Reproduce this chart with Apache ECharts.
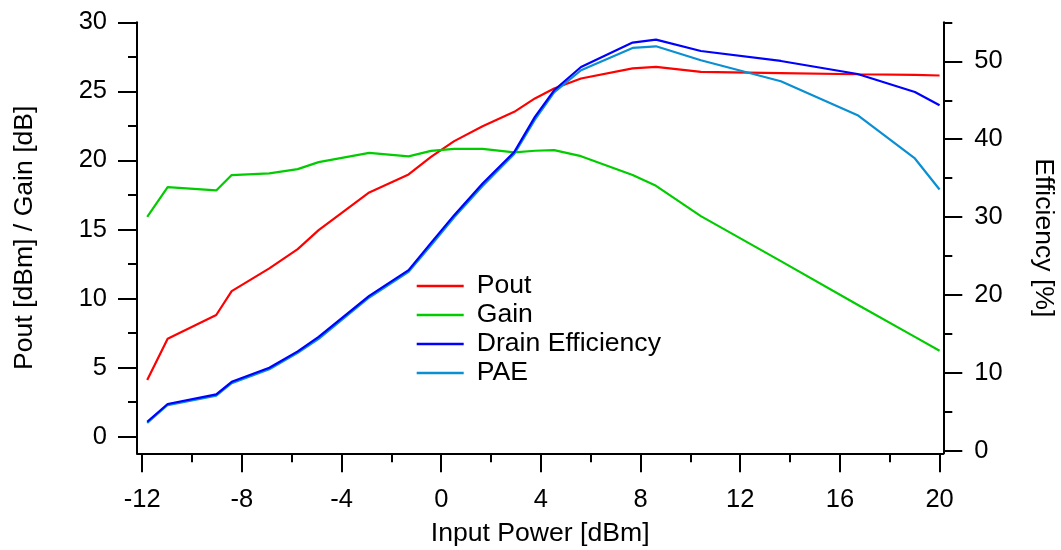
<!DOCTYPE html>
<html>
<head>
<meta charset="utf-8">
<script src="https://cdn.jsdelivr.net/npm/echarts@6/dist/echarts.min.js"></script>
<style>
  html, body { margin: 0; padding: 0; background: #ffffff; }
  #chart { width: 1061px; height: 550px; }
</style>
</head>
<body>
<div id="chart"></div>
<script>
// Power sweep of the amplifier: input power [dBm]
const inputPower = [-11.8, -10.98, -9.03, -8.41, -6.90, -5.76, -4.92, -2.89, -1.31, -0.41, 0.52, 1.66,
                    2.93, 3.76, 4.53, 5.61, 7.68, 8.62, 10.42, 13.63, 16.71, 19.01, 20.0];
// Output power [dBm]
const pout = [4.10, 7.09, 8.81, 10.54, 12.19, 13.58, 14.96, 17.68, 18.99, 20.26, 21.40, 22.48,
              23.52, 24.49, 25.21, 25.93, 26.66, 26.77, 26.41, 26.32, 26.24, 26.20, 26.15];
// Gain [dB]
const gain = [15.92, 18.07, 17.83, 18.94, 19.06, 19.37, 19.88, 20.55, 20.29, 20.69, 20.84, 20.84,
              20.58, 20.70, 20.75, 20.31, 18.94, 18.16, 15.97, 12.71, 9.55, 7.23, 6.22];
// Drain efficiency [%]
const drainEff = [3.76, 6.03, 7.27, 8.88, 10.68, 12.78, 14.65, 19.91, 23.21, 26.70, 30.26, 34.32,
                  38.37, 42.86, 46.28, 49.27, 52.40, 52.78, 51.32, 50.04, 48.37, 46.06, 44.36];
// Power-added efficiency [%]
const pae = [3.60, 5.90, 7.10, 8.70, 10.50, 12.60, 14.40, 19.70, 23.00, 26.40, 30.00, 34.00,
             38.10, 42.50, 46.00, 48.85, 51.71, 51.92, 50.13, 47.44, 43.08, 37.53, 33.55];

const seriesNames = ['Pout', 'Gain', 'Drain Efficiency', 'PAE'];

// Axis ranges and tick steps
const xRange = [-12.21, 20.15], xTicks = [-12, 20, 4];
const leftRange = [-1.2, 30], leftTicks = [0, 30, 5];
const rightRange = [-0.29, 55], rightTicks = [0, 60, 10];

const W = 1061, H = 550;
const FRAME = { left: 137, right: 943.3, top: 22.3, bottom: 453.3 };
const FONT = '"Liberation Sans", Arial, Helvetica, sans-serif';

const xPx = v => FRAME.left + (v - xRange[0]) / (xRange[1] - xRange[0]) * (FRAME.right - FRAME.left);
const leftPx = v => FRAME.bottom - (v - leftRange[0]) / (leftRange[1] - leftRange[0]) * (FRAME.bottom - FRAME.top);
const rightPx = v => FRAME.bottom - (v - rightRange[0]) / (rightRange[1] - rightRange[0]) * (FRAME.bottom - FRAME.top);

const black = '#000000';
const lineAxis = { show: true, onZero: false, lineStyle: { color: black, width: 2 } };
const noLine = { show: false, onZero: false };
const tickMajor = { show: true, length: 19, lineStyle: { color: black, width: 2 } };
const tickMinor = { show: true, splitNumber: 2, length: 9, lineStyle: { color: black, width: 2 } };
const tickLabel = (margin) => ({ show: true, color: black, fontSize: 25.5, fontFamily: FONT, margin: margin, hideOverlap: false });
const hidden = (grid) => ({ type: 'value', gridIndex: grid, show: false, min: 0, max: 1, axisLine: noLine });
const titleStyle = { color: black, fontSize: 26.6, fontFamily: FONT };
const gridBox = (l, r, t, b) => ({ left: l, right: W - r, top: t, bottom: H - b, outerBoundsMode: 'none', containLabel: false });

const chart = echarts.init(document.getElementById('chart'), null, { renderer: 'canvas' });

const option = {
  animation: false,
  backgroundColor: '#ffffff',
  grid: [
    // plotting area with the axis lines
    gridBox(FRAME.left, FRAME.right, FRAME.top, FRAME.bottom),
    // bottom ticks, spanning -12 .. 20
    gridBox(xPx(xTicks[0]), xPx(xTicks[1]), FRAME.top, FRAME.bottom),
    // left ticks, spanning 0 .. 30
    gridBox(FRAME.left, FRAME.right, leftPx(leftTicks[1]), leftPx(leftTicks[0])),
    // right ticks, spanning 0 .. 60
    gridBox(FRAME.left, FRAME.right, rightPx(rightTicks[1]), rightPx(rightTicks[0]))
  ],
  xAxis: [
    {
      type: 'value', gridIndex: 0, min: xRange[0], max: xRange[1],
      axisLine: lineAxis, axisTick: { show: false }, axisLabel: { show: false }, splitLine: { show: false },
      name: 'Input Power [dBm]', nameLocation: 'middle', nameGap: 67, nameTextStyle: titleStyle
    },
    {
      type: 'value', gridIndex: 1, min: xTicks[0], max: xTicks[1], interval: xTicks[2],
      axisLine: noLine, axisTick: tickMajor, minorTick: tickMinor,
      axisLabel: tickLabel(34), splitLine: { show: false }, minorSplitLine: { show: false }
    },
    hidden(2),
    hidden(3)
  ],
  yAxis: [
    {
      type: 'value', gridIndex: 0, position: 'left', min: leftRange[0], max: leftRange[1],
      axisLine: lineAxis, axisTick: { show: false }, axisLabel: { show: false }, splitLine: { show: false },
      name: 'Pout [dBm] / Gain [dB]', nameLocation: 'middle', nameGap: 99, nameTextStyle: titleStyle
    },
    {
      type: 'value', gridIndex: 0, position: 'right', min: rightRange[0], max: rightRange[1],
      axisLine: lineAxis, axisTick: { show: false }, axisLabel: { show: false }, splitLine: { show: false },
      name: 'Efficiency [%]', nameLocation: 'middle', nameGap: 87, nameRotate: -90, nameTextStyle: titleStyle
    },
    hidden(1),
    {
      type: 'value', gridIndex: 2, position: 'left', min: leftTicks[0], max: leftTicks[1], interval: leftTicks[2],
      axisLine: noLine, axisTick: tickMajor, minorTick: tickMinor,
      axisLabel: tickLabel(30), splitLine: { show: false }, minorSplitLine: { show: false }
    },
    {
      type: 'value', gridIndex: 3, position: 'right', min: rightTicks[0], max: rightTicks[1], interval: rightTicks[2],
      axisLine: noLine, axisTick: tickMajor, minorTick: tickMinor,
      axisLabel: Object.assign(tickLabel(31), { showMaxLabel: false }),
      splitLine: { show: false }, minorSplitLine: { show: false }
    }
  ],
  legend: {
    orient: 'vertical', left: 416.7, top: 271.5, padding: 0,
    itemWidth: 47, itemHeight: 2.5, itemGap: 0, icon: 'rect',
    textStyle: { color: black, fontSize: 26.6, fontFamily: FONT, lineHeight: 29, padding: [0, 0, 0, 8] },
    data: seriesNames
  },
  series: [
    { name: seriesNames[0], values: pout, axis: 0, color: '#ff0000' },
    { name: seriesNames[1], values: gain, axis: 0, color: '#00cc00' },
    { name: seriesNames[3], values: pae, axis: 1, color: '#0a8fd2' },
    { name: seriesNames[2], values: drainEff, axis: 1, color: '#0000ff' }
  ].map(s => ({
    name: s.name, type: 'line', xAxisIndex: 0, yAxisIndex: s.axis,
    data: inputPower.map((x, i) => [x, s.values[i]]),
    symbol: 'none', showSymbol: false, smooth: false, silent: true,
    lineStyle: { color: s.color, width: 2.2 }, itemStyle: { color: s.color }
  }))
};

chart.setOption(option);
</script>
</body>
</html>
